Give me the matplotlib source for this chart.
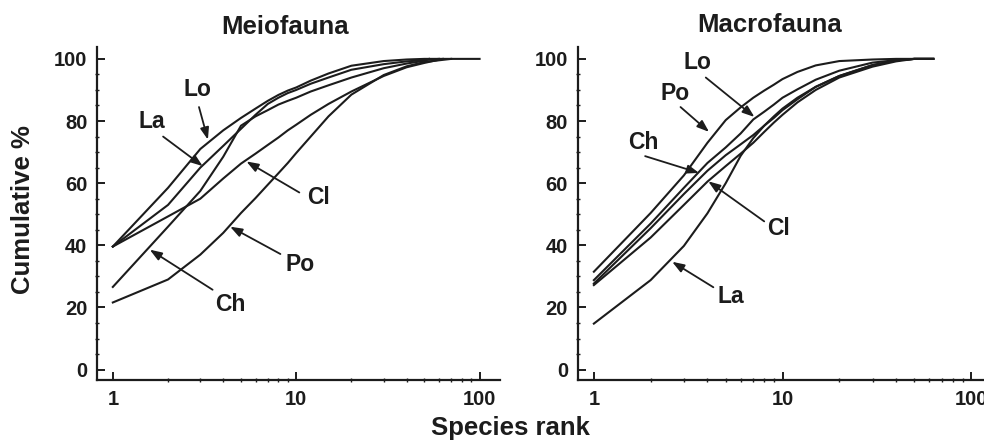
import matplotlib
matplotlib.use("Agg")
import matplotlib.pyplot as plt
from matplotlib.ticker import FixedLocator, NullFormatter

plt.rcParams['font.family'] = ['Liberation Sans', 'DejaVu Sans']
plt.rcParams['font.weight'] = 'bold'

# species ranks shared by every curve, plus the rank where each curve reaches 100 %
ranks = [1, 2, 3, 4, 5, 6, 7, 8, 9, 10, 12, 15, 20, 30, 40, 50]

# Meiofauna cumulative %
meio_lo = [39.6, 58.5, 71, 77, 81, 84, 86.5, 88.4, 89.8, 90.8, 93, 95.3, 97.8, 99.3, 99.8, 100]
meio_la = [39.6, 53, 65, 72, 77.5, 82, 85.5, 87.5, 89, 90, 92, 94, 96.5, 98.3, 99.2, 99.6]
meio_ch = [26.6, 46, 57.5, 68.5, 78.5, 81.5, 83.5, 85.3, 86.5, 87.5, 89.5, 91.5, 94, 97, 98.5, 99.4]
meio_cl = [39.6, 49.3, 55, 61.5, 66.3, 69.5, 72.3, 74.7, 77, 78.8, 82, 85.5, 89.5, 94.5, 97.3, 98.7]
meio_po = [21.6, 29, 37, 44, 50.4, 55.2, 59.5, 63.2, 66.5, 69.7, 75, 81.5, 88.5, 94.8, 97.6, 99]
meio_end = {'Lo': 100, 'La': 60, 'Ch': 53, 'Cl': 63, 'Po': 70}

# Macrofauna cumulative %
macro_po = [31.5, 50.4, 62.5, 73, 80.3, 84.4, 87.5, 89.8, 91.7, 93.5, 95.8, 97.9, 99.3, 99.8, 100, 100]
macro_lo = [28.8, 47, 58.5, 66.5, 71.5, 76, 80.5, 83, 85.3, 87.5, 90.2, 93.3, 96.2, 98.8, 99.6, 100]
macro_ch = [27.7, 45.5, 56.5, 64, 69, 72.5, 75.5, 78.5, 81, 83.5, 87, 91, 94.5, 98, 99.5, 100]
macro_cl = [27.2, 42.5, 53, 60.5, 65.5, 69.5, 73, 76.5, 79.5, 82, 86, 90, 94, 97.5, 99.2, 100]
macro_la = [14.8, 28.8, 39.8, 50.3, 60, 68.8, 74.5, 78.5, 81.5, 84, 87.5, 91, 94.5, 98, 99.5, 100]
macro_end = {'Po': 63, 'Lo': 63, 'Ch': 63, 'Cl': 63, 'La': 63}

# labels: (text, text position, arrow tail, arrow tip) in data coords
meio_labels = [
    ('Lo', (2.88, 90), (2.95, 84.5), (3.3, 74)),
    ('La', (1.63, 80), (1.88, 75), (3.09, 65.5)),
    ('Cl', (13.2, 55.3), (10.4, 57), (5.35, 67)),
    ('Po', (10.5, 33.8), (8.2, 37.2), (4.36, 46)),
    ('Ch', (4.36, 20.9), (3.5, 25.7), (1.59, 38.6)),
]
macro_labels = [
    ('Lo', (3.54, 98.9), (3.92, 94), (7.1, 81.3)),
    ('Po', (2.71, 88.7), (2.88, 84.5), (4.08, 76.5)),
    ('Ch', (1.83, 73.2), (1.87, 68.7), (3.61, 63.3)),
    ('Cl', (9.48, 45.5), (8.0, 47.7), (4.04, 60.6)),
    ('La', (5.33, 23.4), (4.3, 26.5), (2.6, 34.7)),
]

INK = '#1c1c1c'


def draw_panel(ax, curves, ends, labels, xmax):
    for name, vals in curves.items():
        xs = ranks + [ends[name]]
        ys = vals + [100]
        ax.plot(xs, ys, '-', color=INK, lw=1.5, solid_joinstyle='round')

    for text, tpos, tail, tip in labels:
        ax.annotate('', xy=tip, xytext=tail,
                    arrowprops=dict(arrowstyle='-|>,head_length=0.55,head_width=0.2',
                                    color=INK, lw=1.3, mutation_scale=13,
                                    shrinkA=0, shrinkB=0))
        ax.text(tpos[0], tpos[1], text, ha='center', va='center',
                fontsize=16.5, fontweight='bold', color=INK)

    ax.set_xscale('log')
    ax.set_xlim(0.82, xmax)
    ax.set_ylim(-3.4, 103.8)
    ax.spines['top'].set_visible(False)
    ax.spines['right'].set_visible(False)
    for s in ('left', 'bottom'):
        ax.spines[s].set_linewidth(1.6)
        ax.spines[s].set_color(INK)

    ax.xaxis.set_major_locator(FixedLocator([1, 10, 100]))
    ax.xaxis.set_minor_locator(FixedLocator(
        [m * d for d in (1, 10) for m in range(2, 10)]))
    ax.xaxis.set_minor_formatter(NullFormatter())
    ax.set_xticks([1, 10, 100])
    ax.set_xticklabels(['1', '10', '100'])
    ax.set_yticks(range(0, 101, 20))
    ax.set_yticks(range(0, 101, 5), minor=True)

    ax.tick_params(which='major', direction='in', length=6, width=1.4,
                   color=INK, labelsize=14.5, pad=7, labelcolor=INK)
    ax.tick_params(which='minor', direction='inout', length=3.5, width=1.0,
                   color=INK)
    for lab in ax.get_xticklabels() + ax.get_yticklabels():
        lab.set_fontweight('bold')


fig = plt.figure(figsize=(9.84, 4.4), dpi=100)
ax1 = fig.add_axes([0.0986, 0.136, 0.41, 0.757])
ax2 = fig.add_axes([0.587, 0.136, 0.413, 0.757])

draw_panel(ax1,
           {'Lo': meio_lo, 'La': meio_la, 'Ch': meio_ch, 'Cl': meio_cl, 'Po': meio_po},
           meio_end, meio_labels, 130)
draw_panel(ax2,
           {'Po': macro_po, 'Lo': macro_lo, 'Ch': macro_ch, 'Cl': macro_cl, 'La': macro_la},
           macro_end, macro_labels, 117)

fig.text(0.290, 0.939, 'Meiofauna', ha='center', va='center',
         fontsize=18.5, fontweight='bold', color=INK)
fig.text(0.782, 0.943, 'Macrofauna', ha='center', va='center',
         fontsize=18.5, fontweight='bold', color=INK)
fig.text(0.519, 0.027, 'Species rank', ha='center', va='center',
         fontsize=18.5, fontweight='bold', color=INK)
fig.text(0.023, 0.523, 'Cumulative %', ha='center', va='center', rotation=90,
         fontsize=18.5, fontweight='bold', color=INK)

fig.savefig('out.png', dpi=100)
